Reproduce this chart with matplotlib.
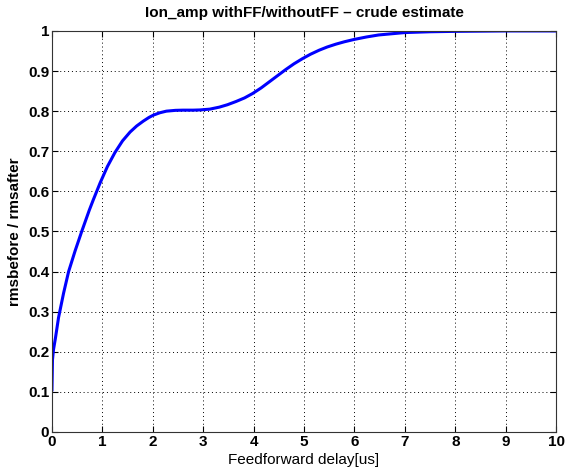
import matplotlib
matplotlib.use("Agg")
import matplotlib.pyplot as plt

plt.rcParams['font.family'] = ['Liberation Sans', 'DejaVu Sans']

# values
delay_us = [0, 0.01, 0.03, 0.07, 0.13, 0.23, 0.33, 0.46, 0.59, 0.74, 0.82, 0.955,
            1.1, 1.25, 1.4, 1.55, 1.68, 1.81, 1.92, 2.01, 2.14, 2.27, 2.45, 2.6, 2.8,
            2.93, 3.13, 3.32, 3.48, 3.65, 3.82, 3.98, 4.15, 4.31, 4.48, 4.64, 4.8,
            4.97, 5.13, 5.3, 5.46, 5.63, 5.8, 6.0, 6.24, 6.48, 6.74, 7.0, 7.5, 8.0,
            9.0, 10.0]
ratio = [0.105, 0.18, 0.205, 0.235, 0.285, 0.346, 0.40, 0.452, 0.50, 0.553, 0.579,
         0.621, 0.662, 0.697, 0.726, 0.748, 0.763, 0.775, 0.784, 0.79, 0.796, 0.80,
         0.802, 0.8025, 0.8025, 0.803, 0.805, 0.81, 0.816, 0.824, 0.833, 0.844,
         0.858, 0.873, 0.889, 0.904, 0.918, 0.931, 0.942, 0.952, 0.96, 0.967, 0.973,
         0.979, 0.985, 0.99, 0.993, 0.996, 0.998, 0.999, 1.0, 1.0]
xticks = list(range(0, 11))
yticks = [i / 10 for i in range(0, 11)]
ytick_labels = ['0', '0.1', '0.2', '0.3', '0.4', '0.5', '0.6', '0.7', '0.8', '0.9', '1']

fig = plt.figure(figsize=(5.68, 4.69), dpi=100)
ax = fig.add_axes([0.0915, 0.079, 0.8875, 0.855])

ax.plot(delay_us, ratio, color='#0000ff', lw=2.2, solid_joinstyle='round')

ax.set_xlim(0, 10)
ax.set_ylim(0, 1)
ax.set_xticks(xticks)
ax.set_xticklabels([str(t) for t in xticks], fontweight='bold', fontsize=11)
ax.set_yticks(yticks)
ax.set_yticklabels(ytick_labels, fontweight='bold', fontsize=11)
ax.tick_params(direction='in', top=True, right=True, length=4, width=0.8, pad=2,
               colors='black')
ax.grid(True, color='black', linestyle=(0, (1, 3)), linewidth=0.7)
for s in ax.spines.values():
    s.set_color('#333333')
    s.set_linewidth(0.8)

ax.set_title('Ion_amp withFF/withoutFF \u2013 crude estimate', fontsize=11,
             fontweight='bold', pad=10)
ax.set_xlabel('Feedforward delay[us]', fontsize=11, labelpad=3)
ax.set_ylabel('rmsbefore / rmsafter', fontsize=11, fontweight='bold', labelpad=4)

fig.savefig('out.png', dpi=100)
